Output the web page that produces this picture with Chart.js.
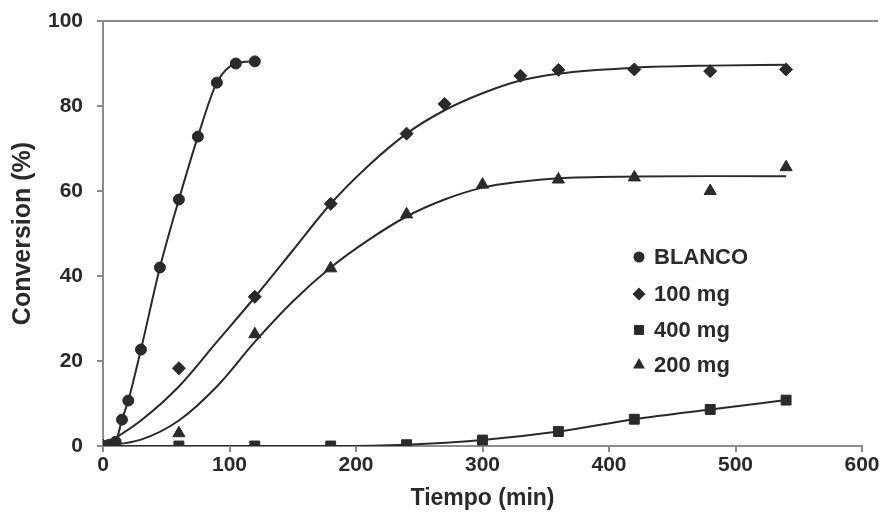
<!DOCTYPE html>
<html><head><meta charset="utf-8">
<script src="https://cdn.jsdelivr.net/npm/chart.js@4.4.1/dist/chart.umd.min.js"></script>
<style>html,body{margin:0;padding:0;background:#fff;}#wrap{width:890px;height:528px;position:relative;}</style>
</head><body><div id="wrap"><canvas id="c" width="890" height="528"></canvas></div>
<script>
// ---- data ----
const blancoT = [0, 5, 10, 15, 20, 30, 45, 60, 75, 90, 105, 120];
const blancoC = [0, 0.3, 1, 6.2, 10.7, 22.7, 42, 58, 72.8, 85.5, 90, 90.5];

const mg100T = [0, 60, 120, 180, 240, 270, 330, 360, 420, 480, 540];
const mg100C = [0, 18.3, 35.1, 57, 73.5, 80.5, 87.1, 88.5, 88.6, 88.2, 88.6];

const mg400T = [0, 60, 120, 180, 240, 300, 360, 420, 480, 540];
const mg400C = [0, 0, 0, 0, 0.3, 1.4, 3.4, 6.3, 8.6, 10.8];

const mg200T = [0, 60, 120, 180, 240, 300, 360, 420, 480, 540];
const mg200C = [0, 3, 26.3, 41.8, 54.5, 61.5, 62.7, 63.2, 60, 65.6];

// fitted curves as drawn in the reference
const fit100T = [0, 30, 60, 90, 120, 150, 180, 210, 240, 270, 300, 330, 360, 420, 480, 540];
const fit100C = [0, 6, 14, 24.5, 35, 46, 57, 66, 73.5, 79, 83, 86, 87.6, 89, 89.5, 89.7];

const fit200T = [0, 30, 60, 90, 120, 150, 180, 210, 240, 270, 300, 330, 360, 420, 480, 540];
const fit200C = [0, 1.5, 6, 14, 24.5, 34, 42, 48.5, 54, 58, 60.8, 62.2, 63, 63.4, 63.5, 63.5];

const xTicks = [0, 100, 200, 300, 400, 500, 600];
const yTicks = [0, 20, 40, 60, 80, 100];
const legendLabels = ['BLANCO', '100 mg', '400 mg', '200 mg'];

const pts = (xs, ys) => xs.map((x, i) => ({x: x, y: ys[i]}));
const INK = '#2a2a2a';
const AX = '#8c8c8c';
const FAM = '"Liberation Sans", Arial, Helvetica, sans-serif';

const markerStyles = {'BLANCO': ['circle', 5.5], '100 mg': ['rectRot', 6.5], '400 mg': ['rect', 7], '200 mg': ['triangle', 7]};

function drawMarker(ctx, style, r, x, y) {
  ctx.save();
  ctx.fillStyle = INK;
  ctx.beginPath();
  if (style === 'circle') { ctx.arc(x, y, r, 0, Math.PI * 2); }
  else if (style === 'rectRot') { ctx.moveTo(x - r, y); ctx.lineTo(x, y - r); ctx.lineTo(x + r, y); ctx.lineTo(x, y + r); ctx.closePath(); }
  else if (style === 'rect') { const s = r * Math.SQRT1_2; ctx.rect(x - s, y - s, 2 * s, 2 * s); }
  else if (style === 'triangle') { const h = r * 1.5; ctx.moveTo(x - r * 0.85, y + h / 3); ctx.lineTo(x, y - 2 * h / 3); ctx.lineTo(x + r * 0.85, y + h / 3); ctx.closePath(); }
  ctx.fill();
  ctx.restore();
}

const frame = {
  id: 'frame',
  beforeDatasetsDraw(chart) {
    const {ctx, chartArea} = chart;
    ctx.save();
    ctx.strokeStyle = AX; ctx.lineWidth = 2;
    ctx.beginPath(); ctx.moveTo(chartArea.left - 1, chartArea.top); ctx.lineTo(878, chartArea.top); ctx.stroke();
    ctx.restore();
  }
};

const innerLegend = {
  id: 'innerLegend',
  afterDraw(chart) {
    const ctx = chart.ctx;
    const x0 = 639, ys = [257, 294, 330, 365];
    const sizes = [5.5, 6.5, 7, 7];
    ctx.save();
    ctx.font = 'bold 22px ' + FAM;
    ctx.fillStyle = INK;
    ctx.textBaseline = 'middle';
    legendLabels.forEach((lab, i) => {
      drawMarker(ctx, markerStyles[lab][0], sizes[i], x0, ys[i]);
      ctx.fillText(lab, 654, ys[i] + 1);
    });
    ctx.restore();
  }
};

const pointDs = (label, xs, ys, line) => ({
  label: label,
  data: pts(xs, ys),
  showLine: line,
  borderColor: INK,
  backgroundColor: INK,
  borderWidth: 2,
  pointStyle: markerStyles[label][0],
  pointRadius: markerStyles[label][1],
  pointBorderWidth: 1,
  pointBackgroundColor: INK,
  pointBorderColor: INK,
  cubicInterpolationMode: 'monotone'
});

const fitDs = (label, xs, ys) => ({
  label: label,
  data: pts(xs, ys),
  showLine: true,
  borderColor: INK,
  borderWidth: 2,
  pointRadius: 0,
  cubicInterpolationMode: 'monotone'
});

new Chart(document.getElementById('c'), {
  type: 'scatter',
  data: {
    datasets: [
      pointDs('BLANCO', blancoT, blancoC, true),
      pointDs('100 mg', mg100T, mg100C, false),
      pointDs('400 mg', mg400T, mg400C, true),
      pointDs('200 mg', mg200T, mg200C, false),
      fitDs('fit 100 mg', fit100T, fit100C),
      fitDs('fit 200 mg', fit200T, fit200C)
    ]
  },
  options: {
    responsive: false,
    animation: false,
    layout: {padding: {left: 0, right: 28, top: 21, bottom: 0}},
    plugins: {legend: {display: false}, tooltip: {enabled: false}},
    scales: {
      x: {
        type: 'linear', min: 0, max: 600,
        afterBuildTicks(s) { s.ticks = xTicks.map(v => ({value: v})); },
        afterFit(s) { s.height = 82; },
        ticks: {color: INK, font: {family: FAM, size: 21, weight: 'bold'}, padding: 1, maxRotation: 0},
        grid: {drawOnChartArea: false, drawTicks: true, tickLength: 6, color: AX, lineWidth: 2},
        border: {color: AX, width: 2},
        title: {display: true, text: 'Tiempo (min)', color: INK, font: {family: FAM, size: 23, weight: 'bold'}, padding: {top: 0, bottom: 16}}
      },
      y: {
        type: 'linear', min: 0, max: 100,
        afterBuildTicks(s) { s.ticks = yTicks.map(v => ({value: v})); },
        afterFit(s) { s.width = 103; s.paddingTop = 0; s.paddingBottom = 0; },
        ticks: {color: INK, font: {family: FAM, size: 21, weight: 'bold'}, padding: 14},
        grid: {drawOnChartArea: false, drawTicks: true, tickLength: 6, color: AX, lineWidth: 2},
        border: {color: AX, width: 2},
        title: {display: true, text: 'Conversion (%)', color: INK, font: {family: FAM, size: 25, weight: 'bold'}, padding: {top: 8, bottom: 0}}
      }
    }
  },
  plugins: [frame, innerLegend]
});
</script>
</body></html>
